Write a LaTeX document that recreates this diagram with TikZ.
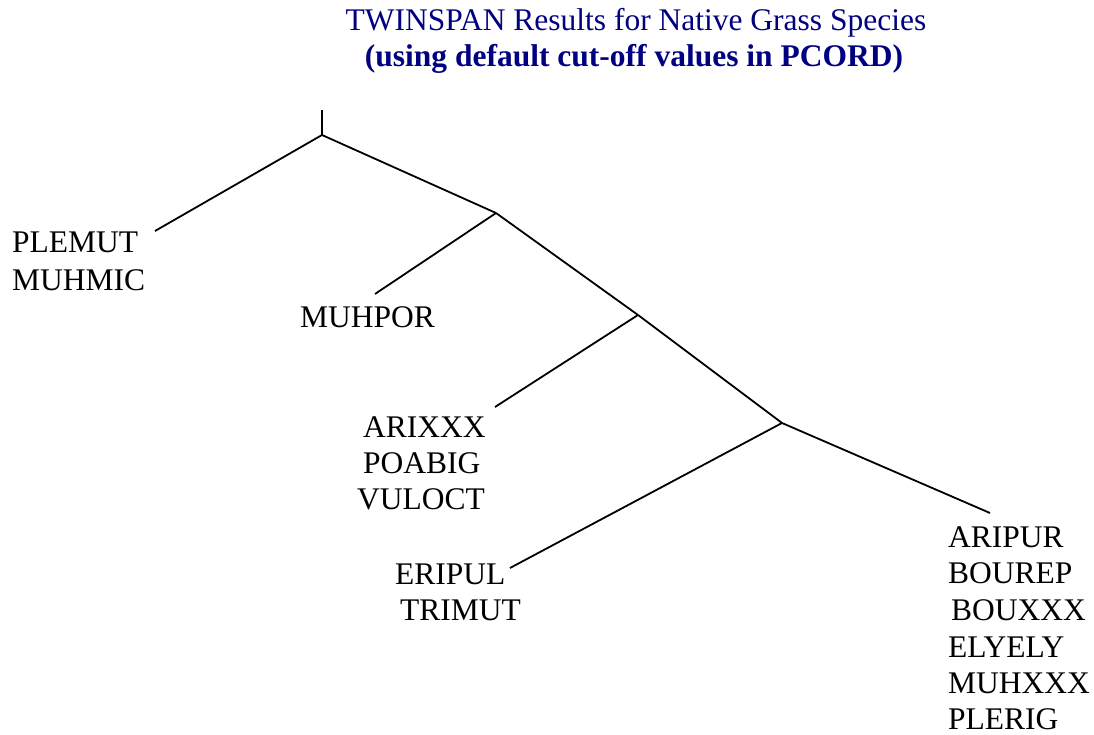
\documentclass[tikz,border=0pt]{standalone}
\usepackage{fontspec}
\setmainfont{Liberation Serif}
\definecolor{titleblue}{RGB}{0,0,128}
\begin{document}
\begin{tikzpicture}[x=1pt,y=-1pt,
  lbl/.style={anchor=base west,inner sep=0pt,font=\fontsize{31.5}{36}\selectfont},
  ttl/.style={anchor=base,inner sep=0pt,text=titleblue,font=\fontsize{31.5}{36}\selectfont},
  branch/.style={line width=1.8pt}]
\useasboundingbox (0,0) rectangle (1094,735);
% title
\node[ttl] (t1) at (636,31) {TWINSPAN Results for Native Grass Species};
\node[ttl,font=\fontsize{31.5}{36}\selectfont\bfseries] (t2) at (634,67) {(using default cut-off values in PCORD)};
% branch points
\coordinate (top) at (322,110);
\coordinate (A) at (322,135);
\coordinate (B) at (496,213);
\coordinate (C) at (638,315);
\coordinate (D) at (782,423);
% leaf ends
\coordinate (eL1) at (155,231);
\coordinate (eL2) at (375,294);
\coordinate (eL3) at (495,407);
\coordinate (eL4) at (510,568);
\coordinate (eR) at (990,513);
% connectors
\draw[branch] (top) -- (A);
\draw[branch] (A) -- (eL1);
\draw[branch] (A) -- (B);
\draw[branch] (B) -- (eL2);
\draw[branch] (B) -- (C);
\draw[branch] (C) -- (eL3);
\draw[branch] (C) -- (D);
\draw[branch] (D) -- (eL4);
\draw[branch] (D) -- (eR);
% labels
\node[lbl] (plemut) at (12,253) {PLEMUT};
\node[lbl] (muhmic) at (12,290) {MUHMIC};
\node[lbl] (muhpor) at (300,327) {MUHPOR};
\node[lbl] (arixxx) at (363,437) {ARIXXX};
\node[lbl] (poabig) at (363,473) {POABIG};
\node[lbl] (vuloct) at (357,509) {VULOCT};
\node[lbl] (eripul) at (395,584) {ERIPUL};
\node[lbl] (trimut) at (400,620) {TRIMUT};
\node[lbl] (aripur) at (948,547) {ARIPUR};
\node[lbl] (bourep) at (948,583) {BOUREP};
\node[lbl] (bouxxx) at (951,620) {BOUXXX};
\node[lbl] (elyely) at (948,657) {ELYELY};
\node[lbl] (muhxxx) at (948,693) {MUHXXX};
\node[lbl] (plerig) at (948,729) {PLERIG};
\end{tikzpicture}
\end{document}
